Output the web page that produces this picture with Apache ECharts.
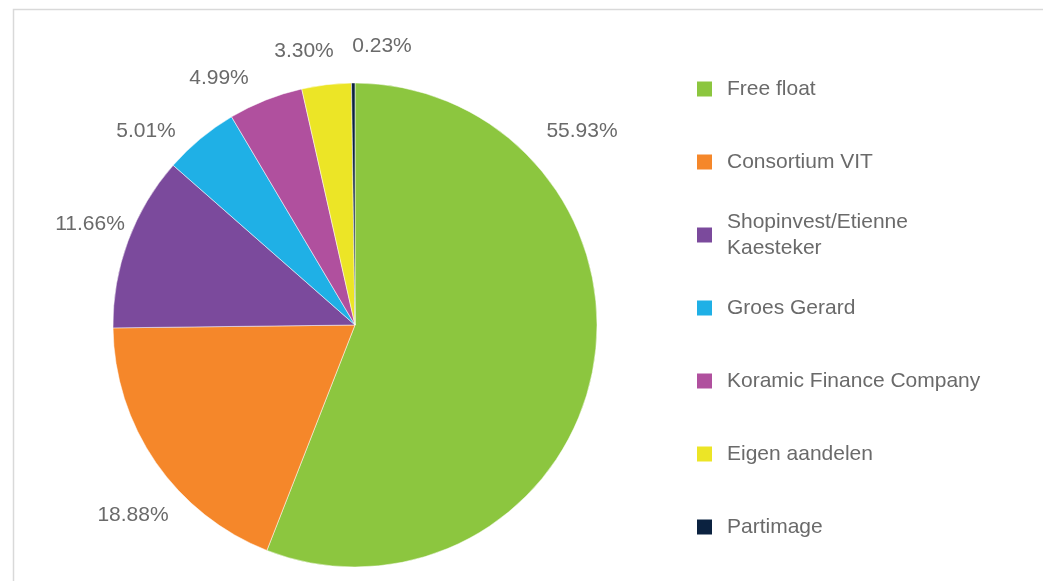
<!DOCTYPE html>
<html>
<head>
<meta charset="utf-8">
<script src="https://cdn.jsdelivr.net/npm/echarts@6/dist/echarts.min.js"></script>
<style>
  html, body { margin: 0; padding: 0; background: #fff; }
  #chart { width: 1043px; height: 581px; }
</style>
</head>
<body>
<div id="chart"></div>
<script>
// aandeelhouders
const names = [
  'Free float',
  'Consortium VIT',
  'Shopinvest/Etienne\nKaesteker',
  'Groes Gerard',
  'Koramic Finance Company',
  'Eigen aandelen',
  'Partimage',
];
const shares = [55.93, 18.88, 11.66, 5.01, 4.99, 3.30, 0.23];
const colors = ['#8cc63f', '#f5872a', '#7b4a9c', '#1fb0e6', '#b0509e', '#ece526', '#0b2240'];

// label spots (text centres), like the original "best fit" layout
const labelSpots = [
  [582, 131], [133, 515], [90, 224], [146, 131], [219, 78], [304, 51], [382, 46],
];

const chart = echarts.init(document.getElementById('chart'));

chart.setOption({
  animation: false,
  color: colors,
  graphic: [{
    type: 'rect',
    shape: { x: 13.5, y: 9.5, width: 1200, height: 800 },
    style: { fill: 'none', stroke: '#d9d9d9', lineWidth: 1.5 },
    silent: true,
  }],
  legend: {
    orient: 'vertical',
    left: 697,
    top: 64,
    padding: 0,
    itemWidth: 15,
    itemHeight: 15,
    itemGap: 23,
    icon: 'rect',
    itemStyle: { borderWidth: 0 },
    textStyle: {
      fontFamily: 'Liberation Sans',
      fontSize: 21,
      color: '#6a6a6a',
      lineHeight: 26,
      height: 50,
      padding: [0, 0, 0, 10],
    },
    data: names,
  },
  series: [{
    type: 'pie',
    center: [355, 325],
    radius: 242,
    startAngle: 90,
    clockwise: true,
    itemStyle: { borderColor: '#ffffff', borderWidth: 0.5 },
    label: {
      show: true,
      position: 'outside',
      fontFamily: 'Liberation Sans',
      fontSize: 21,
      color: '#6a6a6a',
      formatter: (p) => p.value.toFixed(2) + '%',
    },
    labelLine: { show: false },
    labelLayout: (p) => ({
      x: labelSpots[p.dataIndex][0],
      y: labelSpots[p.dataIndex][1],
      align: 'center',
      verticalAlign: 'middle',
    }),
    data: names.map((n, i) => ({ name: n, value: shares[i] })),
  }],
});
</script>
</body>
</html>
